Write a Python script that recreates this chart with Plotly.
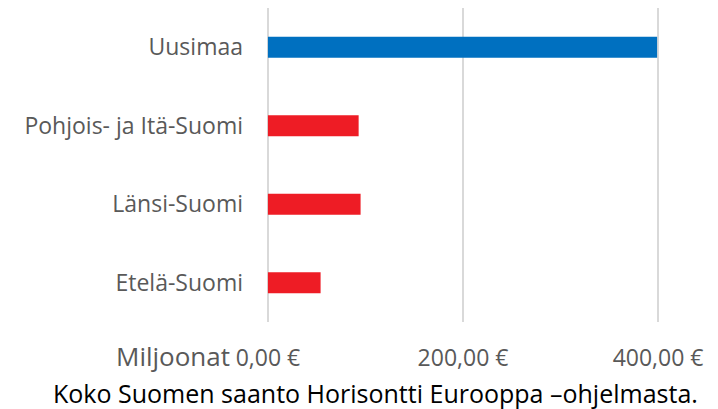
import plotly.graph_objects as go

categories = ["Etelä-Suomi", "Länsi-Suomi", "Pohjois- ja Itä-Suomi", "Uusimaa"]
values = [54, 95, 93, 399]
bar_colors = ["#EE1C25", "#EE1C25", "#EE1C25", "#0070C0"]
tick_vals = [0, 200, 400]
tick_text = ["0,00 €", "200,00 €", "400,00 €"]
unit_label = "Miljoonat"
title_text = "Koko Suomen saanto Horisontti Eurooppa –ohjelmasta."

FONT = "Open Sans, Noto Sans, sans-serif"

fig = go.Figure(
    go.Bar(
        y=categories,
        x=values,
        orientation="h",
        marker=dict(color=bar_colors, line=dict(width=0)),
        width=0.27,
    )
)

# page has an 8px body margin, so figure is sized/margined to compensate
fig.update_layout(
    width=710,
    height=401,
    margin=dict(l=257, r=57, t=0, b=87),
    paper_bgcolor="white",
    plot_bgcolor="white",
    showlegend=False,
    font=dict(family=FONT, color="#595959", size=22),
    xaxis=dict(
        range=[-3, 403],
        tickvals=tick_vals,
        ticktext=tick_text,
        showgrid=True,
        gridcolor="#D9D9D9",
        gridwidth=2,
        zeroline=False,
        showline=False,
        ticks="",
        automargin=False,
        ticklabelstandoff=20,
        tickfont=dict(size=23, color="#595959"),
    ),
    yaxis=dict(
        showgrid=False,
        zeroline=False,
        showline=False,
        ticks="",
        automargin=False,
        ticklabelstandoff=21,
        tickfont=dict(size=23, color="#595959"),
        range=[-0.5, 3.5],
    ),
)

fig.add_annotation(
    text=unit_label, xref="paper", yref="paper", x=-0.0833, y=-0.108,
    xanchor="right", yanchor="middle", showarrow=False,
    font=dict(family=FONT, size=26, color="#595959"),
)
fig.add_annotation(
    text=title_text, xref="paper", yref="paper", x=0.280, y=-0.226,
    xanchor="center", yanchor="middle", showarrow=False,
    font=dict(family=FONT, size=25, color="#000000"),
)

fig.write_html("out.html")
